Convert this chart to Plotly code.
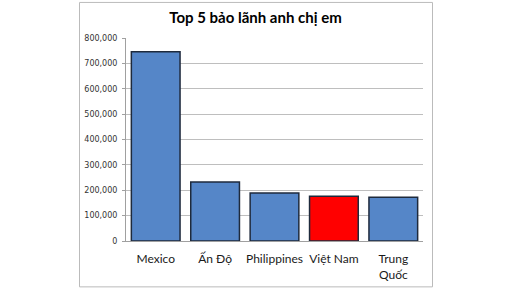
import plotly.graph_objects as go

categories = ["Mexico", "Ấn Độ", "Philippines", "Việt Nam", "Trung<br>Quốc"]
values = [746000, 233000, 189000, 176000, 172500]
bar_colors = ["#5586C8", "#5586C8", "#5586C8", "#FF0000", "#5586C8"]
tick_vals = [0, 100000, 200000, 300000, 400000, 500000, 600000, 700000, 800000]
tick_text = ["0", "100,000", "200,000", "300,000", "400,000", "500,000", "600,000", "700,000", "800,000"]

W, H = 512, 288
L, R, T, B = 126, 423, 38, 240.7

fig = go.Figure(go.Bar(
    x=categories, y=values,
    marker=dict(color=bar_colors, line=dict(color="#1E2A3C", width=1.5)),
))

pw, ph = R - L, B - T
def px_to_paper_x(px): return (px - L) / pw
def px_to_paper_y(py): return (B - py) / ph

fig.update_layout(
    width=W, height=H,
    margin=dict(l=L, r=W - R, t=T, b=H - B, pad=0),
    paper_bgcolor="white", plot_bgcolor="white",
    bargap=0.18,
    showlegend=False,
    title=dict(text="<b>Top 5 bảo lãnh anh chị em</b>", x=px_to_paper_x(255.5), xref="paper",
               xanchor="center", y=1 - 17.5 / H, yanchor="middle",
               font=dict(family="Lato", size=15, color="#000000")),
    xaxis=dict(showgrid=False, showline=True, linecolor="#A0A0A0", linewidth=1,
               ticks="", tickfont=dict(family="Lato", size=12, color="#1A1A1A"),
               ticklabelstandoff=7, fixedrange=True, automargin=False),
    yaxis=dict(range=[0, 800000], tickvals=tick_vals, ticktext=tick_text,
               showgrid=True, gridcolor="#BEBEBE", gridwidth=1,
               showline=True, linecolor="#A0A0A0", linewidth=1,
               ticks="outside", ticklen=3, tickcolor="#A0A0A0",
               tickfont=dict(family="DejaVu Sans", size=8, color="#333333"),
               ticklabelstandoff=3, zeroline=False, automargin=False),
    shapes=[dict(type="rect", xref="paper", yref="paper",
                 x0=px_to_paper_x(79.5), x1=px_to_paper_x(432.5),
                 y0=px_to_paper_y(286.5), y1=px_to_paper_y(2.5),
                 line=dict(color="#BBBBBB", width=1), fillcolor="rgba(0,0,0,0)", layer="below")],
)

fig.write_html("out.html")
